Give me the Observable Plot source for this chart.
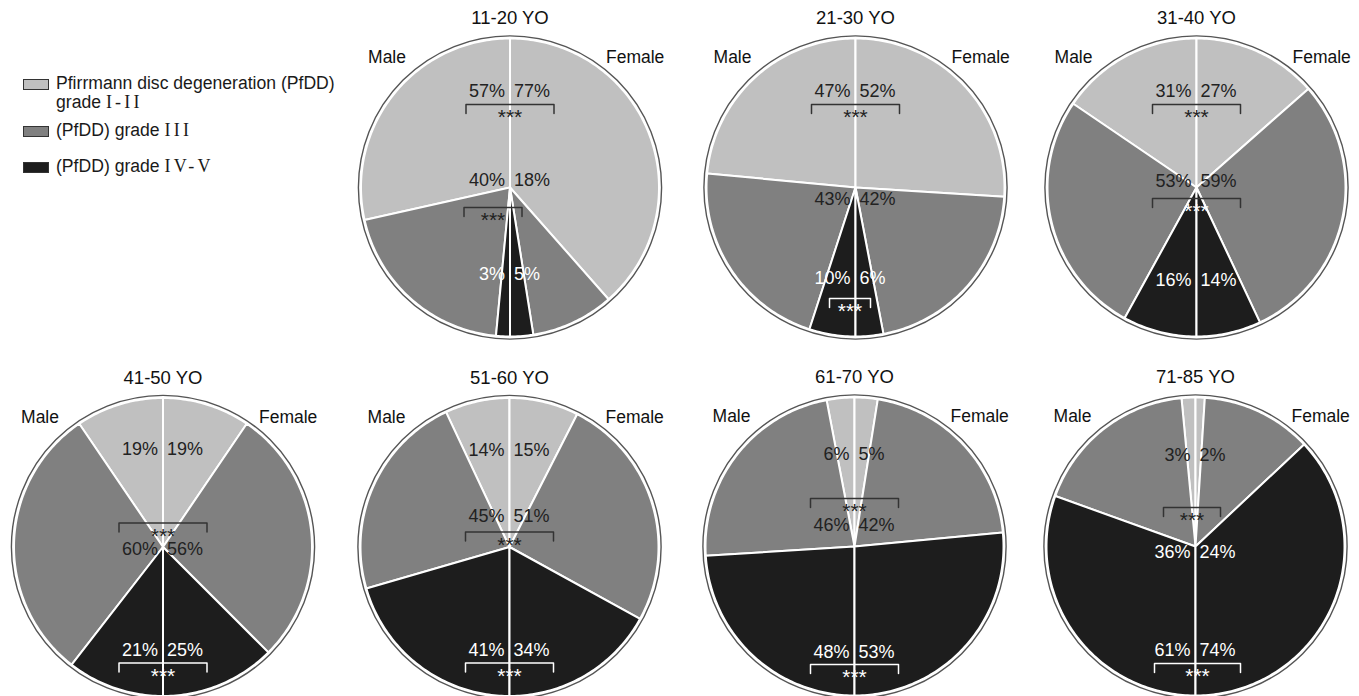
<!DOCTYPE html>
<html><head><meta charset="utf-8">
<script src="https://cdn.jsdelivr.net/npm/d3@7"></script>
<script src="https://cdn.jsdelivr.net/npm/@observablehq/plot@0.6"></script>
<style>
body{margin:0;background:#fff;overflow:hidden}
#wrap{position:relative;width:1359px;height:696px;font-family:"Liberation Sans",Arial,sans-serif}
#legend{position:absolute;left:23px;top:74px;font-size:17.6px;color:#1a1a1a;line-height:19px}
.item{display:flex;align-items:flex-start;margin-bottom:0}
.box{width:24px;height:9px;border:1px solid #333;margin-right:7px;flex:none}
.rn{font-family:"Liberation Serif","Times New Roman",serif;font-size:18px;letter-spacing:0.18em}
</style></head><body><div id="wrap"><div id="legend"></div></div>
<script>
// ---- data ----
const ageGroups = ["11-20 YO","21-30 YO","31-40 YO","41-50 YO","51-60 YO","61-70 YO","71-85 YO"];
const grades = ["I-II","III","IV-V"];
const gradeColors = ["#c0c0c0","#808080","#1d1d1d"];
const maleGradeI_II  = [57,47,31,19,14,6,3];
const maleGradeIII   = [40,43,53,60,45,46,36];
const maleGradeIV_V  = [3,10,16,21,41,48,61];
const femaleGradeI_II = [77,52,27,19,15,5,2];
const femaleGradeIII  = [18,42,59,56,51,42,24];
const femaleGradeIV_V = [5,6,14,25,34,53,74];
const sigMark = "***";
const legendLabels = [["Pfirrmann disc degeneration (PfDD)", "grade ", "I-II"], ["(PfDD) grade ", "III"], ["(PfDD) grade ", "IV-V"]];

// ---- layout (positions only) ----
const W = 1359, H = 696, R = 149;
const centers = [[509.5,187],[855,187],[1196,187],[162.5,546.5],[509,546.5],[854,546],[1195,546]];
// label vertical offsets per grade, label colours, brackets [dy, x0, x1, lineColor, starColor]
const labelLayout = [
  {dy:[-96,-7,87],  col:["d","d","w"], br:[[-83,-44,44,"d","d"],[20,-46,12,"d","d"]]},
  {dy:[-96,12,91],  col:["d","d","w"], br:[[-83,-44,44,"d","d"],[111,-26,15,"w","w"]]},
  {dy:[-96,-6,93],  col:["d","d","w"], br:[[-83,-44,44,"d","d"],[11,-44,44,"d","w"]]},
  {dy:[-98,2,103],  col:["d","d","w"], br:[[-24,-44,44,"d","d"],[116,-44,44,"w","w"]]},
  {dy:[-97,-31,103],col:["d","d","w"], br:[[-15,-44,44,"d","d"],[116,-44,44,"w","w"]]},
  {dy:[-92,-21,106],col:["d","d","w"], br:[[-48,-44,44,"d","d"],[118,-44,44,"w","w"]]},
  {dy:[-91,6,104],  col:["d","w","w"], br:[[-39,-32,25,"d","d"],[117,-41,45,"w","w"]]}
];
const DARK = "#222", WHITE = "#fff";

const male = [maleGradeI_II, maleGradeIII, maleGradeIV_V];
const female = [femaleGradeI_II, femaleGradeIII, femaleGradeIV_V];

// ---- build slice polygons from values ----
const slicePts = [];
const labels = [];
const brackets = [];
const stars = [];
const heads = [];
ageGroups.forEach((g, gi) => {
  const [cx, cy] = centers[gi];
  heads.push({x: cx, y: cy - 169, t: g, kind: "title"});
  heads.push({x: cx - 104, y: cy - 130, t: "Male", kind: "male"});
  heads.push({x: cx + 96, y: cy - 130, t: "Female", kind: "female"});
  [["Male", male, -1], ["Female", female, 1]].forEach(([sex, vals, side]) => {
    let a = 0;
    grades.forEach((gr, k) => {
      const v = vals[k][gi];
      const a0 = a, a1 = a + v / 100 * 180; a = a1;
      const key = gi + "-" + sex + "-" + k;
      slicePts.push({key, grade: gr, x: cx, y: cy});
      const n = Math.max(2, Math.ceil(a1 - a0));
      for (let i = 0; i <= n; i++) {
        const t = (a0 + (a1 - a0) * i / n) * Math.PI / 180;
        slicePts.push({key, grade: gr, x: cx + side * R * Math.sin(t), y: cy - R * Math.cos(t)});
      }
      const L = labelLayout[gi];
      labels.push({sex, x: cx + (side < 0 ? -5 : 4), y: cy + L.dy[k], t: v + "%", c: L.col[k]});
    });
  });
  labelLayout[gi].br.forEach(([dy, x0, x1, lc, sc], bi) => {
    const key = gi + "-" + bi;
    const yt = cy + dy, yb = cy + dy + 9;
    brackets.push({key, c: lc, x: cx + x0, y: yb}, {key, c: lc, x: cx + x0, y: yt}, {key, c: lc, x: cx + x1, y: yt}, {key, c: lc, x: cx + x1, y: yb});
    stars.push({x: cx + (x0 + x1) / 2, y: cy + dy + 13, t: sigMark, c: sc});
  });
});

const font = "Liberation Sans, Arial, sans-serif";
const chart = Plot.plot({
  width: W, height: H, margin: 0,
  x: {domain: [0, W], range: [0, W], axis: null},
  y: {domain: [0, H], range: [0, H], axis: null},
  color: {domain: grades, range: gradeColors},
  style: {fontFamily: font, background: "transparent"},
  marks: [
    Plot.line(slicePts, {x: "x", y: "y", z: "key", fill: "grade", stroke: "white", strokeWidth: 2, curve: "linear-closed", strokeLinejoin: "round"}),
    Plot.dot(centers.map(([x, y]) => ({x, y})), {x: "x", y: "y", r: R + 2.6, stroke: "#555", strokeWidth: 1.4, fill: "none"}),
    Plot.line(brackets.filter(d => d.c === "d"), {x: "x", y: "y", z: "key", stroke: "#333", strokeWidth: 1.5}),
    Plot.line(brackets.filter(d => d.c === "w"), {x: "x", y: "y", z: "key", stroke: WHITE, strokeWidth: 1.5}),
    Plot.text(labels.filter(d => d.sex === "Male" && d.c === "d"), {x: "x", y: "y", text: "t", textAnchor: "end", fill: DARK, fontSize: 18}),
    Plot.text(labels.filter(d => d.sex === "Male" && d.c === "w"), {x: "x", y: "y", text: "t", textAnchor: "end", fill: WHITE, fontSize: 18}),
    Plot.text(labels.filter(d => d.sex === "Female" && d.c === "d"), {x: "x", y: "y", text: "t", textAnchor: "start", fill: DARK, fontSize: 18}),
    Plot.text(labels.filter(d => d.sex === "Female" && d.c === "w"), {x: "x", y: "y", text: "t", textAnchor: "start", fill: WHITE, fontSize: 18}),
    Plot.text(stars.filter(d => d.c === "d"), {x: "x", y: "y", text: "t", fill: DARK, fontSize: 21}),
    Plot.text(stars.filter(d => d.c === "w"), {x: "x", y: "y", text: "t", fill: WHITE, fontSize: 21}),
    Plot.text(heads.filter(d => d.kind === "title"), {x: "x", y: "y", text: "t", fill: "#111", fontSize: 18.5}),
    Plot.text(heads.filter(d => d.kind === "male"), {x: "x", y: "y", text: "t", textAnchor: "end", fill: "#111", fontSize: 17.5}),
    Plot.text(heads.filter(d => d.kind === "female"), {x: "x", y: "y", text: "t", textAnchor: "start", fill: "#111", fontSize: 17.5})
  ]
});
document.getElementById("wrap").appendChild(chart);
chart.style.position = "absolute"; chart.style.left = "0"; chart.style.top = "0";

// ---- legend ----
const leg = document.getElementById("legend");
const tops = [0, 47, 83];
legendLabels.forEach((parts, i) => {
  const item = document.createElement("div");
  item.className = "item";
  item.style.position = "absolute"; item.style.top = tops[i] + "px"; item.style.left = "0";
  item.style.whiteSpace = "nowrap";
  const box = document.createElement("div");
  box.className = "box"; box.style.background = gradeColors[i]; box.style.marginTop = "5px";
  item.appendChild(box);
  const txt = document.createElement("div");
  if (parts.length === 3) {
    txt.innerHTML = parts[0] + "<br>" + parts[1] + '<span class="rn">' + parts[2] + "</span>";
  } else {
    txt.innerHTML = parts[0] + '<span class="rn">' + parts[1] + "</span>";
  }
  item.appendChild(txt);
  leg.appendChild(item);
});
leg.style.zIndex = 2;
</script></body></html>
